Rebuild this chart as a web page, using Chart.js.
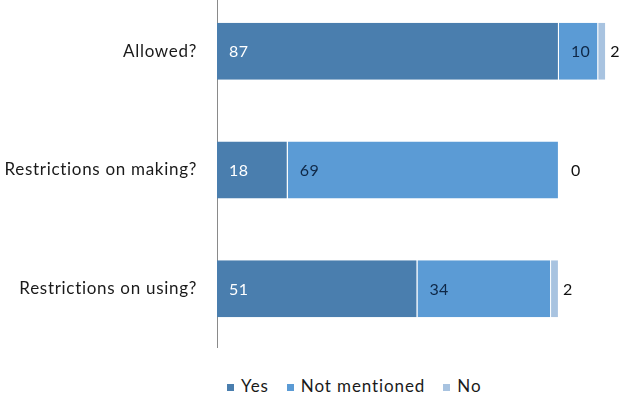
<!DOCTYPE html>
<html>
<head>
<meta charset="utf-8">
<script src="https://cdn.jsdelivr.net/npm/chart.js@4/dist/chart.umd.min.js"></script>
<style>
  html, body { margin: 0; padding: 0; background: #fff; }
  #wrap { position: relative; width: 622px; height: 404px; overflow: hidden; }
  #cw { position: absolute; left: 0; top: -8px; width: 622px; height: 356px; }
  #legend { position: absolute; left: 227px; top: 376px; font-family: Lato, sans-serif; font-size: 17px; letter-spacing: 0.9px; color: #1a1a1a; white-space: nowrap; line-height: 20px; }
  #legend span.item { display: inline-block; margin-right: 18px; }
  #legend span.box { display: inline-block; width: 7px; height: 7px; margin-right: 7px; vertical-align: 1px; }
</style>
</head>
<body>
<div id="wrap">
  <div id="cw"><canvas id="cv"></canvas></div>
  <div id="legend"></div>
</div>
<script>
const categories = ["Allowed?", "Restrictions on making?", "Restrictions on using?"];
const seriesNames = ["Yes", "Not mentioned", "No"];
const yesValues = [87, 18, 51];
const notMentionedValues = [10, 69, 34];
const noValues = [2, 0, 2];

const colors = ["#4a7eae", "#5b9bd5", "#a8c3e0"];
const labelColors = ["#ffffff", "#0f2847", "#111111"];

const spacingPlugin = {
  id: 'spacing',
  beforeDraw(chart) { chart.ctx.letterSpacing = '0.7px'; }
};

const labelPlugin = {
  id: 'segLabels',
  afterDatasetsDraw(chart) {
    const ctx = chart.ctx;
    ctx.save();
    ctx.letterSpacing = '0.4px';
    ctx.font = '16px Lato, sans-serif';
    ctx.textAlign = 'left';
    ctx.textBaseline = 'middle';
    chart.data.datasets.forEach((ds, di) => {
      const meta = chart.getDatasetMeta(di);
      meta.data.forEach((el, i) => {
        const start = Math.min(el.base, el.x);
        ctx.fillStyle = labelColors[di];
        ctx.fillText(String(ds.data[i]), start + 12, el.y + 1);
      });
    });
    ctx.restore();
  }
};

const valuesList = [yesValues, notMentionedValues, noValues];
new Chart(document.getElementById('cv'), {
  type: 'bar',
  data: {
    labels: categories,
    datasets: seriesNames.map((n, i) => ({
      label: n,
      data: valuesList[i],
      backgroundColor: colors[i],
      borderColor: '#ffffff',
      borderWidth: { left: 0, right: 1, top: 0, bottom: 0 },
      borderSkipped: false,
      barPercentage: 1,
      categoryPercentage: 0.48
    }))
  },
  options: {
    indexAxis: 'y',
    responsive: true,
    maintainAspectRatio: false,
    animation: false,
    layout: { padding: { left: 0, right: 12, top: 0, bottom: 0 } },
    plugins: { legend: { display: false }, tooltip: { enabled: false } },
    scales: {
      x: { stacked: true, min: 0, max: 100, display: false },
      y: {
        stacked: true,
        grid: { display: false, drawTicks: false },
        border: { display: true, color: '#8a8a8a', width: 1 },
        ticks: { color: '#1a1a1a', font: { family: 'Lato, sans-serif', size: 17 }, padding: 20 },
        afterFit(scale) { scale.width = 217; scale.paddingTop = 0; scale.paddingBottom = 0; }
      }
    }
  },
  plugins: [spacingPlugin, labelPlugin]
});

const lg = document.getElementById('legend');
seriesNames.forEach((n, i) => {
  const it = document.createElement('span');
  it.className = 'item';
  const b = document.createElement('span');
  b.className = 'box';
  b.style.background = colors[i];
  it.appendChild(b);
  it.appendChild(document.createTextNode(n));
  lg.appendChild(it);
});
</script>
</body>
</html>
